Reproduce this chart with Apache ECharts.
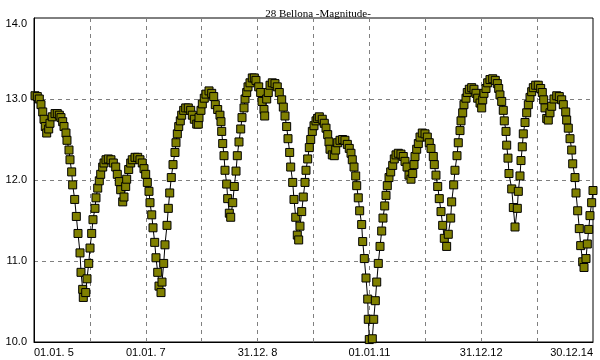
<!DOCTYPE html>
<html>
<head>
<meta charset="utf-8">
<title>28 Bellona -Magnitude-</title>
<script src="https://cdn.jsdelivr.net/npm/echarts@6/dist/echarts.min.js"></script>
<style>
  html, body { margin: 0; padding: 0; background: #fff; }
  #chart { width: 600px; height: 360px; }
</style>
</head>
<body>
<div id="chart"></div>
<script>
// observation dates as decimal years
const obsYears = [
  2005.018, 2005.059, 2005.095, 2005.125, 2005.156, 2005.179, 2005.202, 2005.227, 2005.263, 2005.286,
  2005.327, 2005.376, 2005.417, 2005.453, 2005.483, 2005.513, 2005.537, 2005.572, 2005.590, 2005.626,
  2005.644, 2005.674, 2005.692, 2005.728, 2005.757, 2005.787, 2005.823, 2005.841, 2005.871, 2005.882,
  2005.925, 2005.948, 2005.979, 2006.002, 2006.032, 2006.055, 2006.091, 2006.109, 2006.140, 2006.168,
  2006.193, 2006.229, 2006.252, 2006.288, 2006.329, 2006.377, 2006.419, 2006.462, 2006.490, 2006.526,
  2006.551, 2006.587, 2006.610, 2006.640, 2006.658, 2006.694, 2006.730, 2006.758, 2006.807, 2006.855,
  2006.896, 2006.937, 2006.968, 2006.998, 2007.027, 2007.057, 2007.075, 2007.106, 2007.129, 2007.159,
  2007.182, 2007.213, 2007.236, 2007.272, 2007.290, 2007.320, 2007.343, 2007.379, 2007.403, 2007.428,
  2007.456, 2007.487, 2007.522, 2007.540, 2007.564, 2007.589, 2007.617, 2007.642, 2007.678, 2007.714,
  2007.760, 2007.803, 2007.832, 2007.868, 2007.911, 2007.939, 2007.952, 2007.987, 2008.011, 2008.046,
  2008.077, 2008.131, 2008.179, 2008.215, 2008.243, 2008.286, 2008.327, 2008.345, 2008.358, 2008.376,
  2008.399, 2008.417, 2008.447, 2008.465, 2008.494, 2008.519, 2008.555, 2008.583, 2008.614, 2008.637,
  2008.667, 2008.698, 2008.721, 2008.757, 2008.775, 2008.805, 2008.828, 2008.864, 2008.905, 2008.941,
  2008.971, 2009.020, 2009.055, 2009.079, 2009.114, 2009.127, 2009.163, 2009.191, 2009.222, 2009.263,
  2009.311, 2009.352, 2009.388, 2009.431, 2009.460, 2009.490, 2009.520, 2009.544, 2009.574, 2009.592,
  2009.628, 2009.651, 2009.682, 2009.710, 2009.735, 2009.758, 2009.789, 2009.817, 2009.848, 2009.866,
  2009.896, 2009.925, 2009.950, 2009.979, 2010.009, 2010.045, 2010.075, 2010.104, 2010.157, 2010.193,
  2010.224, 2010.254, 2010.277, 2010.295, 2010.336, 2010.372, 2010.397, 2010.433, 2010.474, 2010.522,
  2010.563, 2010.605, 2010.640, 2010.671, 2010.694, 2010.725, 2010.755, 2010.773, 2010.801, 2010.826,
  2010.862, 2010.880, 2010.909, 2010.939, 2010.970, 2010.980, 2010.998, 2011.052, 2011.077, 2011.106,
  2011.131, 2011.159, 2011.190, 2011.220, 2011.243, 2011.274, 2011.297, 2011.320, 2011.351, 2011.381,
  2011.417, 2011.445, 2011.476, 2011.517, 2011.565, 2011.606, 2011.637, 2011.673, 2011.708, 2011.744,
  2011.775, 2011.798, 2011.816, 2011.846, 2011.875, 2011.905, 2011.946, 2011.995, 2012.036, 2012.071,
  2012.102, 2012.143, 2012.161, 2012.191, 2012.222, 2012.250, 2012.281, 2012.311, 2012.340, 2012.382,
  2012.411, 2012.454, 2012.472, 2012.508, 2012.531, 2012.567, 2012.590, 2012.621, 2012.639, 2012.669,
  2012.692, 2012.728, 2012.751, 2012.787, 2012.830, 2012.871, 2012.907, 2012.937, 2012.979, 2013.009,
  2013.027, 2013.050, 2013.086, 2013.116, 2013.157, 2013.206, 2013.252, 2013.288, 2013.313, 2013.336,
  2013.367, 2013.395, 2013.413, 2013.444, 2013.456, 2013.479, 2013.497, 2013.546, 2013.575, 2013.605,
  2013.646, 2013.664, 2013.694, 2013.712, 2013.735, 2013.753, 2013.784, 2013.814, 2013.843, 2013.873,
  2013.903, 2013.932, 2013.975, 2014.021, 2014.064, 2014.093, 2014.118, 2014.141, 2014.172, 2014.200,
  2014.231, 2014.261, 2014.302, 2014.351, 2014.397, 2014.440, 2014.469, 2014.512, 2014.529, 2014.558,
  2014.589, 2014.619, 2014.637, 2014.678, 2014.696, 2014.726, 2014.755, 2014.780, 2014.816, 2014.839,
  2014.875, 2014.898, 2014.923, 2014.946, 2014.976, 2015.000
];

// magnitude at each date
const magnitudes = [
  13.04, 13.03, 13.00, 12.93, 12.84, 12.75, 12.66, 12.58, 12.63, 12.70,
  12.78, 12.82, 12.82, 12.80, 12.77, 12.72, 12.66, 12.58, 12.49, 12.37,
  12.25, 12.10, 11.94, 11.76, 11.55, 11.34, 11.10, 10.86, 10.65, 10.55,
  10.61, 10.78, 10.97, 11.16, 11.34, 11.51, 11.65, 11.78, 11.90, 11.99,
  12.07, 12.16, 12.21, 12.25, 12.26, 12.25, 12.21, 12.16, 12.07, 11.98,
  11.88, 11.73, 11.79, 11.92, 12.01, 12.13, 12.21, 12.25, 12.28, 12.28,
  12.25, 12.21, 12.14, 12.07, 11.97, 11.86, 11.72, 11.57, 11.41, 11.23,
  11.04, 10.86, 10.69, 10.61, 10.74, 10.97, 11.20, 11.44, 11.65, 11.84,
  12.03, 12.19, 12.34, 12.46, 12.57, 12.66, 12.73, 12.80, 12.86, 12.89,
  12.89, 12.86, 12.80, 12.75, 12.69, 12.69, 12.77, 12.86, 12.94, 13.01,
  13.06, 13.10, 13.07, 13.03, 12.93, 12.87, 12.80, 12.72, 12.60, 12.45,
  12.30, 12.12, 11.95, 11.77, 11.59, 11.54, 11.72, 11.92, 12.11, 12.30,
  12.47, 12.63, 12.77, 12.89, 13.00, 13.08, 13.15, 13.20, 13.26, 13.26,
  13.23, 13.15, 13.08, 12.97, 12.87, 12.79, 13.00, 13.08, 13.17, 13.20,
  13.19, 13.15, 13.08, 12.99, 12.90, 12.79, 12.66, 12.51, 12.34, 12.16,
  11.97, 11.76, 11.54, 11.32, 11.26, 11.43, 11.61, 11.79, 11.97, 12.12,
  12.26, 12.40, 12.50, 12.60, 12.67, 12.73, 12.76, 12.78, 12.75, 12.70,
  12.64, 12.56, 12.47, 12.38, 12.31, 12.30, 12.37, 12.46, 12.49, 12.50,
  12.49, 12.44, 12.39, 12.33, 12.25, 12.16, 12.05, 11.93, 11.78, 11.62,
  11.45, 11.24, 11.03, 10.79, 10.53, 10.28, 10.03, 10.04, 10.28, 10.51,
  10.74, 10.97, 11.18, 11.37, 11.53, 11.68, 11.81, 11.93, 12.03, 12.10,
  12.18, 12.26, 12.31, 12.33, 12.32, 12.29, 12.23, 12.16, 12.06, 12.01,
  12.08, 12.19, 12.29, 12.38, 12.45, 12.53, 12.58, 12.57, 12.53, 12.46,
  12.39, 12.29, 12.19, 12.06, 11.92, 11.77, 11.61, 11.44, 11.28, 11.18,
  11.33, 11.53, 11.73, 11.94, 12.12, 12.30, 12.46, 12.61, 12.73, 12.83,
  12.93, 13.01, 13.08, 13.12, 13.14, 13.12, 13.07, 13.01, 12.95, 12.89,
  12.99, 13.07, 13.13, 13.20, 13.24, 13.25, 13.23, 13.19, 13.13, 13.05,
  12.97, 12.86, 12.73, 12.60, 12.43, 12.27, 12.08, 11.89, 11.66, 11.42,
  11.65, 11.86, 12.05, 12.24, 12.41, 12.57, 12.71, 12.83, 12.93, 13.02,
  13.09, 13.14, 13.17, 13.17, 13.13, 13.08, 12.99, 12.89, 12.76, 12.74,
  12.83, 12.91, 13.00, 13.04, 13.03, 12.99, 12.93, 12.84, 12.74, 12.64,
  12.51, 12.37, 12.20, 12.03, 11.84, 11.62, 11.40, 11.19, 10.99, 10.92,
  11.03, 11.21, 11.39, 11.56, 11.72, 11.87
];

const xTickLabels = ['01.01. 5', '', '01.01. 7', '', '31.12. 8', '', '01.01.11', '', '31.12.12', '', '30.12.14'];
const yTickLabels = ['10.0', '11.0', '12.0', '13.0', '14.0'];

const points = obsYears.map((t, i) => [t, magnitudes[i]]);

const chart = echarts.init(document.getElementById('chart'), null, { renderer: 'canvas' });

const gridDash = {
  color: '#808080',
  width: 1,
  type: [4, 4]
};

chart.setOption({
  animation: false,
  backgroundColor: '#ffffff',
  title: {
    text: '28 Bellona -Magnitude-',
    left: 313,
    top: 4,
    textAlign: 'center',
    textStyle: {
      fontFamily: 'Liberation Serif',
      fontSize: 11,
      fontWeight: 'normal',
      color: '#000000'
    }
  },
  grid: {
    left: 34,
    right: 7,
    top: 18,
    bottom: 18,
    show: true,
    borderColor: '#000000',
    borderWidth: 1,
    backgroundColor: 'transparent'
  },
  xAxis: {
    type: 'value',
    min: 2005,
    max: 2015,
    interval: 1,
    axisLine: { show: true, lineStyle: { color: '#000000', width: 1 } },
    axisTick: { show: false },
    axisLabel: {
      margin: 5,
      color: '#000000',
      fontFamily: 'Liberation Sans',
      fontSize: 11,
      alignMinLabel: 'left',
      alignMaxLabel: 'right',
      formatter: function (v) {
        return xTickLabels[Math.round(v - 2005)] || ''
      }
    },
    splitLine: { show: true, showMinLine: false, showMaxLine: false, lineStyle: gridDash }
  },
  yAxis: {
    type: 'value',
    min: 10,
    max: 14,
    interval: 1,
    axisLine: { show: true, lineStyle: { color: '#000000', width: 1 } },
    axisTick: { show: false },
    axisLabel: {
      margin: 7,
      color: '#000000',
      fontFamily: 'Liberation Sans',
      fontSize: 11,
      verticalAlignMaxLabel: 'top',
      formatter: function (v) {
        return yTickLabels[Math.round(v - 10)]
      }
    },
    splitLine: { show: true, showMinLine: false, showMaxLine: false, lineStyle: gridDash }
  },
  series: [{
    type: 'line',
    data: points,
    clip: false,
    symbol: 'rect',
    symbolSize: 8,
    showAllSymbol: true,
    lineStyle: { color: '#000000', width: 1 },
    itemStyle: { color: '#808000', borderColor: '#000000', borderWidth: 1 }
  }]
})
</script>
</body>
</html>
